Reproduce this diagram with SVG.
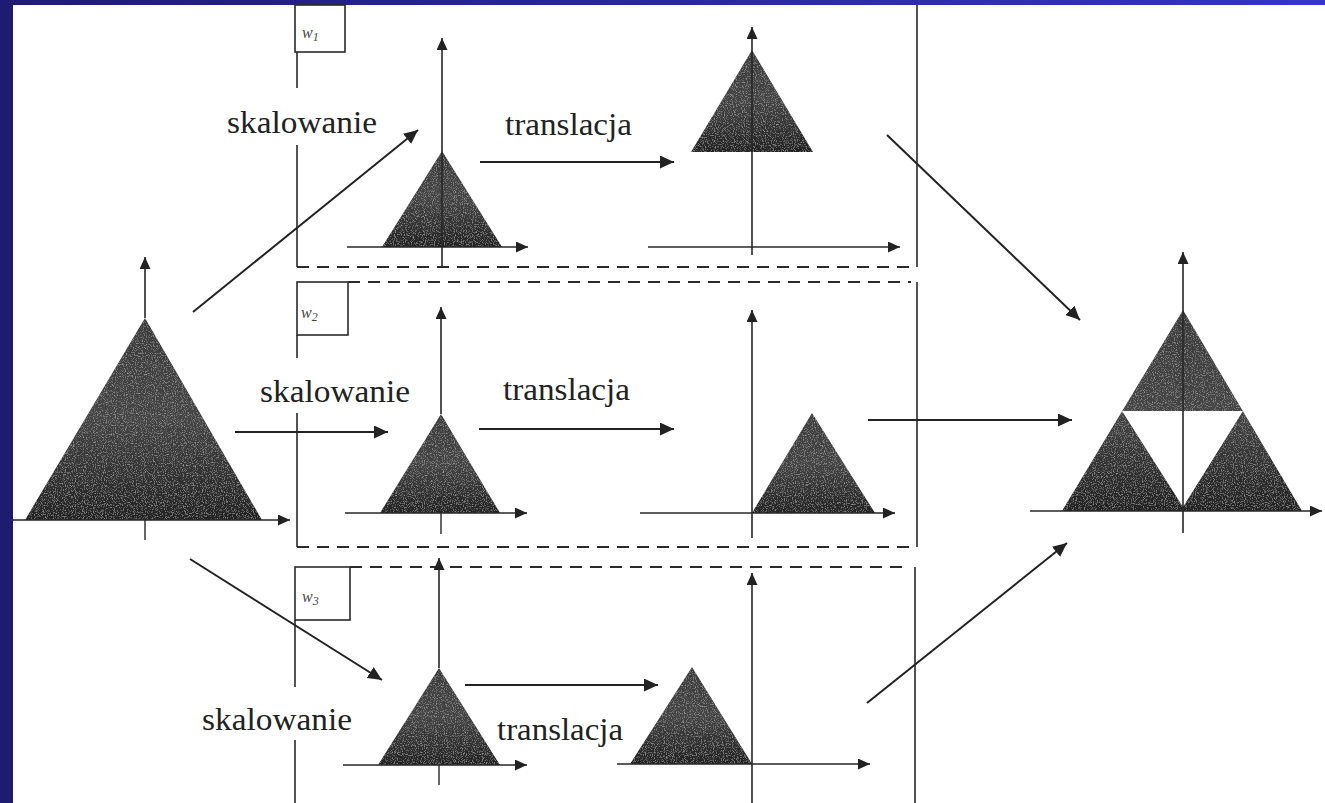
<svg xmlns="http://www.w3.org/2000/svg" width="1325" height="803" viewBox="0 0 1325 803">
  <defs>
    <linearGradient id="band" x1="0" y1="0" x2="1" y2="0">
      <stop offset="0" stop-color="#1e1b74"/>
      <stop offset="1" stop-color="#3434c8"/>
    </linearGradient>
    <linearGradient id="shade" x1="0" y1="0" x2="0" y2="1">
      <stop offset="0" stop-color="#3a3a3a"/>
      <stop offset="0.5" stop-color="#444"/>
      <stop offset="1" stop-color="#222"/>
    </linearGradient>
    <filter id="grain" x="0" y="0" width="1" height="1">
      <feTurbulence type="fractalNoise" baseFrequency="0.9" numOctaves="2" seed="4" result="n"/>
      <feColorMatrix in="n" type="matrix" values="0 0 0 0 1  0 0 0 0 1  0 0 0 0 1  0.8 0 0 0 -0.4" result="w"/>
      <feComposite in="w" in2="SourceGraphic" operator="in" result="ws"/>
      <feMerge><feMergeNode in="SourceGraphic"/><feMergeNode in="ws"/></feMerge>
    </filter>
    <marker id="ah" markerUnits="userSpaceOnUse" markerWidth="15" markerHeight="13" refX="14" refY="6.5" orient="auto">
      <path d="M0,0 L14,6.5 L0,13 z" fill="#222"/>
    </marker>
    <marker id="axh" markerUnits="userSpaceOnUse" markerWidth="13" markerHeight="11" refX="12" refY="5.5" orient="auto">
      <path d="M0,0 L12,5.5 L0,11 z" fill="#222"/>
    </marker>
  </defs>
  <style>
    .tri { fill: url(#shade); filter: url(#grain); }
    .axis { stroke: #262626; stroke-width: 1.6; fill: none; }
    .ax { stroke: #262626; stroke-width: 1.6; fill: none; marker-end: url(#axh); }
    .tick { stroke: #262626; stroke-width: 1.4; }
    .frame { stroke: #2a2a2a; stroke-width: 1.6; fill: none; }
    .dash { stroke: #2a2a2a; stroke-width: 2; fill: none; stroke-dasharray: 12 8; }
    .wbox { fill: #fff; stroke: #2a2a2a; stroke-width: 1.6; }
    .wlab { font-family: "Liberation Serif", serif; font-style: italic; font-size: 16px; fill: #444; }
    .lab { font-family: "Liberation Serif", serif; font-size: 31px; fill: #222; }
    .conn { stroke: #222; stroke-width: 2; fill: none; marker-end: url(#ah); }
  </style>

  <!-- page -->
  <rect x="0" y="0" width="1325" height="803" fill="#fff"/>
  <rect x="0" y="0" width="1325" height="5" fill="url(#band)"/>
  <rect x="0" y="0" width="13" height="803" fill="#1e1b72"/>

  <!-- transformation frames w1, w2, w3 -->
  <g id="frame-w1">
    <path class="frame" d="M297,52 V88 M297,145 V267 M917,5 V267"/>
    <path class="dash" d="M297,267 H917"/>
    <rect class="wbox" x="295" y="5" width="50" height="47"/>
    <text class="wlab" x="302" y="38">w<tspan font-size="12" dy="3">1</tspan></text>
  </g>
  <g id="frame-w2">
    <path class="frame" d="M297,335 V358 M297,413 V547 M917,282 V547"/>
    <path class="dash" d="M348,282 H911"/>
    <path class="dash" d="M297,547 H917"/>
    <rect class="wbox" x="297" y="282" width="51" height="53"/>
    <text class="wlab" x="301" y="318">w<tspan font-size="12" dy="3">2</tspan></text>
  </g>
  <g id="frame-w3">
    <path class="frame" d="M295,620 V687 M295,740 V803 M915,567 V803"/>
    <path class="dash" d="M350,567 H909"/>
    <rect class="wbox" x="295" y="567" width="55" height="53"/>
    <text class="wlab" x="302" y="602">w<tspan font-size="12" dy="3">3</tspan></text>
  </g>

  <!-- source triangle -->
  <g id="source">
    <polygon class="tri" points="145,318 262,520 25,520"/>
    <path class="ax" d="M145,318 V257"/>
    <path class="ax" d="M13,520 H290"/>
    <path class="tick" d="M145,520 V540"/>
  </g>

  <!-- row 1: scaled, then translated -->
  <g id="w1-scaled">
    <polygon class="tri" points="442,151 502,247 382,247"/>
    <path class="axis" d="M442,267 V151"/>
    <path class="ax" d="M442,151 V38"/>
    <path class="ax" d="M347,247 H528"/>
  </g>
  <g id="w1-translated">
    <polygon class="tri" points="752,50 813,152 691,152"/>
    <path class="ax" d="M752,255 V27"/>
    <path class="ax" d="M648,247 H900"/>
  </g>

  <!-- row 2 -->
  <g id="w2-scaled">
    <polygon class="tri" points="441,414 500,513 380,513"/>
    <path class="ax" d="M441,414 V307"/>
    <path class="ax" d="M345,513 H527"/>
    <path class="tick" d="M441,513 V534"/>
  </g>
  <g id="w2-translated">
    <polygon class="tri" points="812,413 875,513 752,513"/>
    <path class="ax" d="M752,538 V310"/>
    <path class="ax" d="M640,513 H895"/>
  </g>

  <!-- row 3 -->
  <g id="w3-scaled">
    <polygon class="tri" points="439,668 500,765 378,765"/>
    <path class="ax" d="M439,668 V558"/>
    <path class="ax" d="M343,765 H527"/>
    <path class="tick" d="M439,765 V785"/>
  </g>
  <g id="w3-translated">
    <polygon class="tri" points="692,667 752,764 630,764"/>
    <path class="ax" d="M752,803 V573"/>
    <path class="ax" d="M617,764 H870"/>
  </g>

  <!-- union of the three images -->
  <g id="result">
    <polygon class="tri" points="1183,310 1302,511 1062,511"/>
    <polygon points="1122,411 1243,411 1183,507" fill="#fff"/>
    <path class="ax" d="M1183,533 V252"/>
    <path class="ax" d="M1030,511 H1322"/>
  </g>

  <!-- labels -->
  <g id="labels">
    <text class="lab" x="227" y="133" textLength="150" lengthAdjust="spacingAndGlyphs">skalowanie</text>
    <text class="lab" x="505" y="135" textLength="127" lengthAdjust="spacingAndGlyphs">translacja</text>
    <text class="lab" x="260" y="402" textLength="150" lengthAdjust="spacingAndGlyphs">skalowanie</text>
    <text class="lab" x="503" y="400" textLength="127" lengthAdjust="spacingAndGlyphs">translacja</text>
    <text class="lab" x="202" y="730" textLength="150" lengthAdjust="spacingAndGlyphs">skalowanie</text>
    <text class="lab" x="497" y="740" textLength="126" lengthAdjust="spacingAndGlyphs">translacja</text>
  </g>

  <!-- connectors -->
  <g id="connectors">
    <path class="conn" d="M193,312 L418,130"/>
    <path class="conn" d="M235,432 H388"/>
    <path class="conn" d="M190,559 L382,680"/>
    <path class="conn" d="M480,162 H674"/>
    <path class="conn" d="M479,429 H674"/>
    <path class="conn" d="M465,685 H658"/>
    <path class="conn" d="M887,135 L1080,320"/>
    <path class="conn" d="M868,420 H1072"/>
    <path class="conn" d="M867,703 L1067,543"/>
  </g>
</svg>
